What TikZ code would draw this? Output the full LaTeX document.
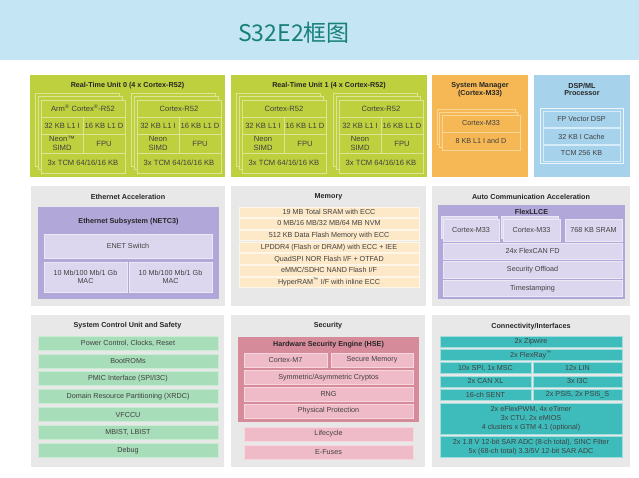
\documentclass[tikz,border=0pt]{standalone}
\usepackage{fontspec}
\setmainfont{Liberation Sans}
\newfontfamily\cjk{Noto Sans CJK SC}
\usepackage{tikz}
\usetikzlibrary{positioning,shadows}
\usepackage{xcolor}

\definecolor{hdrblue}{RGB}{196,229,243}
\definecolor{titleteal}{RGB}{24,128,122}
\definecolor{panelgray}{RGB}{232,232,232}
\definecolor{rtugreen}{RGB}{190,208,62}
\definecolor{rtuline}{RGB}{218,230,150}
\definecolor{smorange}{RGB}{246,184,84}
\definecolor{smline}{RGB}{251,214,150}
\definecolor{dspblue}{RGB}{166,210,236}
\definecolor{dspline}{RGB}{214,236,248}
\definecolor{ethpurple}{RGB}{178,167,217}
\definecolor{ethcell}{RGB}{220,215,238}
\definecolor{ethline}{RGB}{236,233,247}
\definecolor{mempeach}{RGB}{253,233,200}
\definecolor{scugreen}{RGB}{167,221,184}
\definecolor{hsepink}{RGB}{214,139,154}
\definecolor{secpink}{RGB}{240,187,200}
\definecolor{secline}{RGB}{247,214,222}
\definecolor{conteal}{RGB}{62,188,188}
\definecolor{conline}{RGB}{160,222,222}

\begin{document}
\begin{tikzpicture}[x=1pt, y=-1pt, wh/.style 2 args={minimum width=#1pt, minimum height=#2pt}]
	% 定义各类方框
	\tikzstyle{panel} = [rectangle, anchor=north west, inner sep=0pt, outer sep=0pt]	% 定义分区底板
	\tikzstyle{ttl} = [font=\bfseries\fontsize{7.2}{7.6}\selectfont, text=black!85, align=center]	% 定义分区标题
	\tikzstyle{cell} = [rectangle, anchor=north west, inner sep=0pt, outer sep=0pt, line width=0.8pt, font=\fontsize{7.2}{8.6}\selectfont, text=black!75, align=center]	% 定义功能块
	\tikzstyle{rtubox} = [cell, fill=rtugreen, draw=rtuline, font=\fontsize{7.6}{8.4}\selectfont]
	\tikzstyle{smbox} = [cell, fill=smorange, draw=smline]
	\tikzstyle{dspbox} = [cell, fill=dspblue, draw=dspline]
	\tikzstyle{ethbox} = [cell, fill=ethcell, draw=ethline]
	\tikzstyle{membox} = [cell, fill=mempeach, draw=white!60!mempeach, text height=5.4pt, text depth=1.4pt]
	\tikzstyle{scubox} = [cell, fill=scugreen, draw=white!40!scugreen]
	\tikzstyle{secbox} = [cell, fill=secpink, draw=secline]
	\tikzstyle{conbox} = [cell, fill=conteal, draw=conline]
	\tikzstyle{coresh} = [double copy shadow={shadow xshift=-2.7pt, shadow yshift=3.3pt, fill=rtugreen, draw=rtuline}]	% 叠放的内核
	\tikzstyle{smsh} = [double copy shadow={shadow xshift=-2.5pt, shadow yshift=3pt, fill=smorange, draw=smline}]
	\tikzstyle{m33sh} = [copy shadow={shadow xshift=-2pt, shadow yshift=2.3pt, fill=ethcell, draw=ethline}]

	\useasboundingbox (0,0) rectangle (639,477);
	% 标题栏
	\node (hdr) [panel, wh={639}{60}, fill=hdrblue] at (0,0) {};
	\node (title) [font=\cjk\fontsize{23}{27}\selectfont, text=titleteal] at (294,33) {S32E2框图};

	% 第一行: 实时单元
	\node (rtu0) [panel, wh={195}{102}, fill=rtugreen] at (30,75) {};
	\node (rtu0t) [ttl] at (127.5,86) {Real-Time Unit 0 (4 x Cortex-R52)};
	\node (c00) [rtubox, coresh, wh={84}{73}] at (41,100) {};
	\node (c00nm) [rtubox, wh={84}{17}] at (c00.north west) {Arm\textsuperscript{®} Cortex\textsuperscript{®}-R52};
	\node (c00i) [rtubox, wh={42}{17}] at (c00nm.south west) {32 KB L1 I};
	\node (c00d) [rtubox, wh={42}{17}] at (c00i.north east) {16 KB L1 D};
	\node (c00simd) [rtubox, wh={42}{19}] at (c00i.south west) {Neon™\\SIMD};
	\node (c00fpu) [rtubox, wh={42}{19}] at (c00simd.north east) {FPU};
	\node (c00tcm) [rtubox, wh={84}{20}] at (c00simd.south west) {3x TCM 64/16/16 KB};
	\node (c01) [rtubox, coresh, wh={84}{73}] at (137,100) {};
	\node (c01nm) [rtubox, wh={84}{17}] at (c01.north west) {Cortex-R52};
	\node (c01i) [rtubox, wh={42}{17}] at (c01nm.south west) {32 KB L1 I};
	\node (c01d) [rtubox, wh={42}{17}] at (c01i.north east) {16 KB L1 D};
	\node (c01simd) [rtubox, wh={42}{19}] at (c01i.south west) {Neon\\SIMD};
	\node (c01fpu) [rtubox, wh={42}{19}] at (c01simd.north east) {FPU};
	\node (c01tcm) [rtubox, wh={84}{20}] at (c01simd.south west) {3x TCM 64/16/16 KB};

	\node (rtu1) [panel, wh={196}{102}, fill=rtugreen] at (231,75) {};
	\node (rtu1t) [ttl] at (329,86) {Real-Time Unit 1 (4 x Cortex-R52)};
	\node (c10) [rtubox, coresh, wh={84}{73}] at (242,100) {};
	\node (c10nm) [rtubox, wh={84}{17}] at (c10.north west) {Cortex-R52};
	\node (c10i) [rtubox, wh={42}{17}] at (c10nm.south west) {32 KB L1 I};
	\node (c10d) [rtubox, wh={42}{17}] at (c10i.north east) {16 KB L1 D};
	\node (c10simd) [rtubox, wh={42}{19}] at (c10i.south west) {Neon\\SIMD};
	\node (c10fpu) [rtubox, wh={42}{19}] at (c10simd.north east) {FPU};
	\node (c10tcm) [rtubox, wh={84}{20}] at (c10simd.south west) {3x TCM 64/16/16 KB};
	\node (c11) [rtubox, coresh, wh={84}{73}] at (339,100) {};
	\node (c11nm) [rtubox, wh={84}{17}] at (c11.north west) {Cortex-R52};
	\node (c11i) [rtubox, wh={42}{17}] at (c11nm.south west) {32 KB L1 I};
	\node (c11d) [rtubox, wh={42}{17}] at (c11i.north east) {16 KB L1 D};
	\node (c11simd) [rtubox, wh={42}{19}] at (c11i.south west) {Neon\\SIMD};
	\node (c11fpu) [rtubox, wh={42}{19}] at (c11simd.north east) {FPU};
	\node (c11tcm) [rtubox, wh={84}{20}] at (c11simd.south west) {3x TCM 64/16/16 KB};

	% 系统管理 与 DSP
	\node (sm) [panel, wh={96}{102}, fill=smorange] at (432,75) {};
	\node (smt) [ttl] at (480,89.5) {System Manager\\(Cortex-M33)};
	\node (smc) [smbox, smsh, wh={78}{35}] at (442,115) {};
	\node (smm33) [smbox, wh={78}{17}] at (smc.north west) {Cortex-M33};
	\node (sml1) [smbox, wh={78}{18}] at (smm33.south west) {8 KB L1 I and D};

	\node (dsp) [panel, wh={96}{102}, fill=dspblue] at (534,75) {};
	\node (dspt) [ttl] at (582,89.5) {DSP/ML\\Processor};
	\node (dspf) [panel, wh={83}{55}, draw=white!80!dspblue, line width=1pt] at (540,108) {};
	\node (dspv) [dspbox, wh={77}{16}] at (543,111.5) {FP Vector DSP};
	\node (dspc) [dspbox, wh={77}{16}, below=1pt of dspv] {32 KB I Cache};
	\node (dsptcm) [dspbox, wh={77}{16}, below=1pt of dspc] {TCM 256 KB};

	% 第二行
	\node (eth) [panel, wh={194}{120}, fill=panelgray] at (31,186) {};
	\node (etht) [ttl] at (128,197) {Ethernet Acceleration};
	\node (netc) [panel, wh={181}{92}, fill=ethpurple] at (38,207) {};
	\node (netct) [ttl] at (128.5,222) {Ethernet Subsystem (NETC3)};
	\node (enet) [ethbox, wh={168}{24}] at (44,234) {ENET Switch};
	\node (mac0) [ethbox, wh={83}{30}] at (44,262) {10 Mb/100 Mb/1 Gb\\MAC};
	\node (mac1) [ethbox, wh={83}{30}] at (129,262) {10 Mb/100 Mb/1 Gb\\MAC};

	\node (mem) [panel, wh={195}{120}, fill=panelgray] at (231,186) {};
	\node (memt) [ttl] at (328.5,197) {Memory};
	\node (mem1) [membox, wh={180}{10.4}] at (239,207) {19 MB Total SRAM with ECC};
	\node (mem2) [membox, wh={180}{10.4}, below=1.3pt of mem1] {0 MB/16 MB/32 MB/64 MB NVM};
	\node (mem3) [membox, wh={180}{10.4}, below=1.3pt of mem2] {512 KB Data Flash Memory with ECC};
	\node (mem4) [membox, wh={180}{10.4}, below=1.3pt of mem3] {LPDDR4 (Flash or DRAM) with ECC + IEE};
	\node (mem5) [membox, wh={180}{10.4}, below=1.3pt of mem4] {QuadSPI NOR Flash I/F + OTFAD};
	\node (mem6) [membox, wh={180}{10.4}, below=1.3pt of mem5] {eMMC/SDHC NAND Flash I/F};
	\node (mem7) [membox, wh={180}{10.4}, below=1.3pt of mem6] {HyperRAM\textsuperscript{™} I/F with inline ECC};

	\node (aca) [panel, wh={198}{120}, fill=panelgray] at (432,186) {};
	\node (acat) [ttl] at (531,197) {Auto Communication Acceleration};
	\node (llce) [panel, wh={187}{94}, fill=ethpurple] at (438,205) {};
	\node (llcet) [ttl] at (531.5,212) {FlexLLCE};
	\node (llm0) [ethbox, m33sh, wh={56}{22}] at (443,219) {Cortex-M33};
	\node (llm1) [ethbox, m33sh, wh={57}{22}] at (503,219) {Cortex-M33};
	\node (llram) [ethbox, wh={57}{22}] at (565,219) {768 KB SRAM};
	\node (llcan) [ethbox, wh={179}{16.5}] at (443,243) {24x FlexCAN FD};
	\node (llsec) [ethbox, wh={179}{16.5}, below=2pt of llcan] {Security Offload};
	\node (llts) [ethbox, wh={179}{16.5}, below=2pt of llsec] {Timestamping};

	% 第三行
	\node (scu) [panel, wh={193}{152}, fill=panelgray] at (31,315) {};
	\node (scut) [ttl] at (127.5,326) {System Control Unit and Safety};
	\node (scu1) [scubox, wh={180}{14}] at (38,336) {Power Control, Clocks, Reset};
	\node (scu2) [scubox, wh={180}{14}, below=3.9pt of scu1] {BootROMs};
	\node (scu3) [scubox, wh={180}{14}, below=3.9pt of scu2] {PMIC Interface (SPI/I3C)};
	\node (scu4) [scubox, wh={180}{14}, below=3.9pt of scu3] {Domain Resource Partitioning (XRDC)};
	\node (scu5) [scubox, wh={180}{14}, below=3.9pt of scu4] {VFCCU};
	\node (scu6) [scubox, wh={180}{14}, below=3.9pt of scu5] {MBIST, LBIST};
	\node (scu7) [scubox, wh={180}{14}, below=3.9pt of scu6] {Debug};

	\node (sec) [panel, wh={194}{152}, fill=panelgray] at (231,315) {};
	\node (sect) [ttl] at (328,326) {Security};
	\node (hse) [panel, wh={181}{85}, fill=hsepink] at (238,337) {};
	\node (hset) [ttl] at (328.5,344.5) {Hardware Security Engine (HSE)};
	\node (hsem7) [secbox, wh={83}{14}] at (244,353) {Cortex-M7};
	\node (hsemem) [secbox, wh={82}{14}] at (331,353) {Secure Memory};
	\node (hsecry) [secbox, wh={169}{14}] at (244,370.5) {Symmetric/Asymmetric Cryptos};
	\node (hserng) [secbox, wh={169}{14}, below=2.8pt of hsecry] {RNG};
	\node (hsephy) [secbox, wh={169}{14}, below=2.8pt of hserng] {Physical Protection};
	\node (life) [secbox, wh={169}{14}] at (244,427) {Lifecycle};
	\node (fuse) [secbox, wh={169}{14}, below=4pt of life] {E-Fuses};

	\node (con) [panel, wh={198}{152}, fill=panelgray] at (432,315) {};
	\node (cont) [ttl] at (531,327) {Connectivity/Interfaces};
	\node (zip) [conbox, wh={182}{10.5}] at (440,336.5) {2x Zipwire};
	\node (fr) [conbox, wh={182}{10.5}, below=2.5pt of zip] {2x FlexRay\textsuperscript{™}};
	\node (spi) [conbox, wh={91}{11}] at (440,362.5) {10x SPI, 1x MSC};
	\node (lin) [conbox, wh={89}{11}] at (533,362.5) {12x LIN};
	\node (canxl) [conbox, wh={91}{11}, below=2.5pt of spi] {2x CAN XL};
	\node (i3c) [conbox, wh={89}{11}, below=2.5pt of lin] {3x I3C};
	\node (sent) [conbox, wh={91}{11}, below=2.5pt of canxl] {16-ch SENT};
	\node (psi) [conbox, wh={89}{11}, below=2.5pt of i3c] {2x PSI5, 2x PSI5\_S};
	\node (pwm) [conbox, wh={182}{30.5}, font=\fontsize{7.2}{9.2}\selectfont] at (440,403.5) {2x eFlexPWM, 4x eTimer\\3x CTU, 2x eMIOS\\4 clusters x GTM 4.1 (optional)};
	\node (adc) [conbox, wh={182}{21}, font=\fontsize{7.2}{9}\selectfont, below=2.5pt of pwm] {2x 1.8 V 12-bit SAR ADC (8-ch total), SINC Filter\\5x (68-ch total) 3.3/5V 12-bit SAR ADC};
\end{tikzpicture}
\end{document}
